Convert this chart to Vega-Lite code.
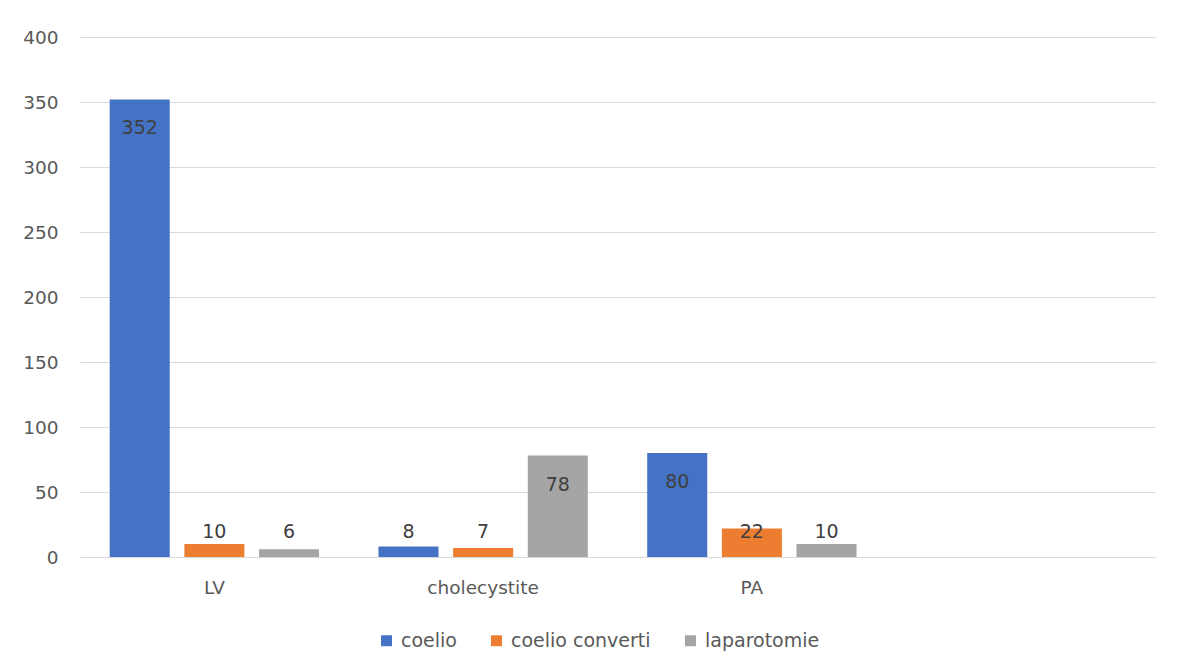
{
  "$schema": "https://vega.github.io/schema/vega-lite/v6.json",
  "autosize": {"type": "none"},
  "width": 1075,
  "height": 520,
  "padding": {"left": 80, "top": 37, "right": 23, "bottom": 115},
  "background": "#ffffff",
  "config": {
    "font": "DejaVu Sans",
    "view": {"stroke": null},
    "axis": {"labelFont": "DejaVu Sans", "labelFontSize": 18.5, "labelColor": "#595959"}
  },
  "data": {
    "values": [
      {"categorie": "LV", "serie": "coelio", "n": 352},
      {"categorie": "LV", "serie": "coelio converti", "n": 10},
      {"categorie": "LV", "serie": "laparotomie", "n": 6},
      {"categorie": "cholecystite", "serie": "coelio", "n": 8},
      {"categorie": "cholecystite", "serie": "coelio converti", "n": 7},
      {"categorie": "cholecystite", "serie": "laparotomie", "n": 78},
      {"categorie": "PA", "serie": "coelio", "n": 80},
      {"categorie": "PA", "serie": "coelio converti", "n": 22},
      {"categorie": "PA", "serie": "laparotomie", "n": 10}
    ]
  },
  "encoding": {
    "x": {
      "field": "categorie",
      "type": "nominal",
      "sort": null,
      "scale": {"domain": ["LV", "cholecystite", "PA", " "], "paddingInner": 0, "paddingOuter": 0},
      "axis": {
        "title": null,
        "labelAngle": 0,
        "ticks": false,
        "domainColor": "#d9d9d9",
        "domainWidth": 1,
        "labelPadding": 21
      }
    },
    "xOffset": {
      "field": "serie",
      "type": "nominal",
      "scale": {"domain": ["coelio", "coelio converti", "laparotomie"], "paddingInner": 0.196, "paddingOuter": 0.398}
    }
  },
  "layer": [
    {
      "mark": {"type": "bar"},
      "encoding": {
        "y": {
          "field": "n",
          "type": "quantitative",
          "scale": {"domain": [0, 400], "nice": false},
          "axis": {
            "title": null,
            "values": [0, 50, 100, 150, 200, 250, 300, 350, 400],
            "domain": false,
            "ticks": false,
            "gridColor": "#d9d9d9",
            "gridWidth": 1,
            "labelPadding": 22
          }
        },
        "color": {
          "field": "serie",
          "type": "nominal",
          "scale": {"domain": ["coelio", "coelio converti", "laparotomie"], "range": ["#4472c4", "#ed7d31", "#a5a5a5"]},
          "legend": {
            "title": null,
            "orient": "none",
            "legendX": 297,
            "legendY": 594,
            "direction": "horizontal",
            "symbolType": "square",
            "symbolSize": 120,
            "symbolStrokeWidth": 0,
            "labelFontSize": 19,
            "labelColor": "#595959",
            "labelFont": "DejaVu Sans",
            "columnPadding": 30,
            "labelOffset": 5
          }
        }
      }
    },
    {
      "transform": [{"filter": "datum.n >= 50"}],
      "mark": {"type": "text", "baseline": "middle", "dy": 29, "fontSize": 19, "color": "#404040"},
      "encoding": {
        "y": {"field": "n", "type": "quantitative"},
        "text": {"field": "n", "type": "quantitative"}
      }
    },
    {
      "transform": [{"filter": "datum.n < 50"}],
      "mark": {"type": "text", "baseline": "middle", "fontSize": 19, "color": "#404040"},
      "encoding": {
        "y": {"datum": 19, "type": "quantitative"},
        "text": {"field": "n", "type": "quantitative"}
      }
    }
  ]
}
